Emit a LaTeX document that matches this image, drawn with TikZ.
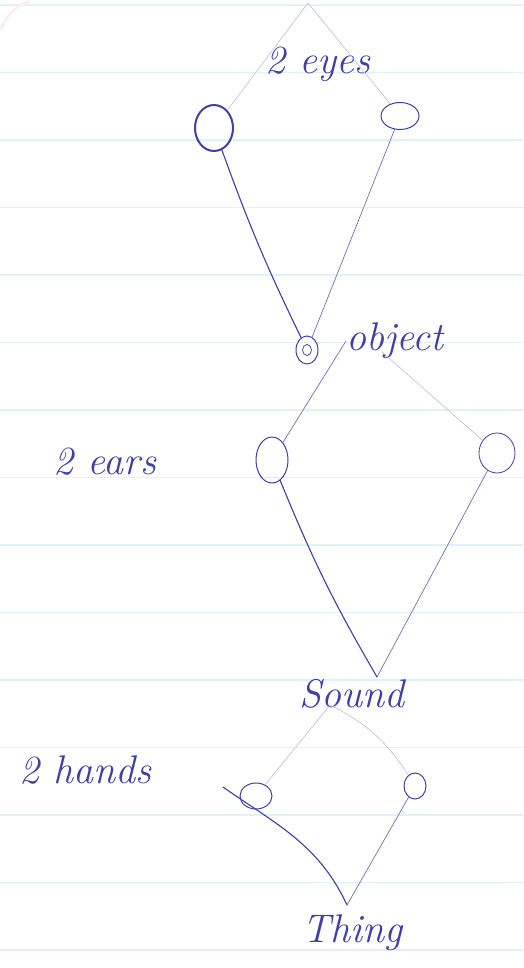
\documentclass[tikz,border=0pt]{standalone}
\usetikzlibrary{shapes.geometric}
\definecolor{pen}{RGB}{62,62,172}
\definecolor{rulecol}{RGB}{224,242,247}
\tikzset{
  ink/.style={draw=pen, line width=1.1pt, line cap=round},
  thinink/.style={draw=pen!75, line width=0.7pt, line cap=round},
  faint/.style={draw=pen!35, line width=0.6pt, line cap=round},
  organ/.style={ellipse, draw=pen, line width=1pt, inner sep=0pt},
  word/.style={text=pen, font=\fontsize{40}{44}\selectfont\itshape, inner sep=0pt},
}
\begin{document}
\begin{tikzpicture}[x=1pt,y=-1pt]
  \useasboundingbox (0,0) rectangle (523,968);
  % Paper
  \foreach \k in {0,...,14}
    \draw[rulecol, line width=1.2pt] (0,5+67.5*\k) -- (523,5+67.5*\k);
  \draw[red!8, line width=2.5pt] (1,30) to[bend left=25] (30,1);
  % Eyes
  \coordinate (top) at (308,3);
  \node[word] (eyes) at (318,64) {2 eyes};
  \node[organ, line width=2pt, minimum width=38pt, minimum height=46pt] (leye) at (214,128) {};
  \node[organ, minimum width=38pt, minimum height=27pt] (reye) at (400,116) {};
  \draw[faint] (top) -- (leye);
  \draw[faint] (top) -- (reye);
  % Object
  \node[organ, minimum width=22pt, minimum height=28pt] (obj) at (307,350) {};
  \node[organ, line width=0.7pt, minimum width=9pt, minimum height=11pt] (objdot) at (obj) {};
  \node[word, anchor=west] (objlbl) at (346,341) {object};
  \coordinate (objfoot) at (382,352);
  \draw[ink] (leye) to[bend right=3] (obj);
  \draw[thinink] (reye) -- (obj);
  % Ears
  \node[word] (ears) at (105,462) {2 ears};
  \node[organ, minimum width=32pt, minimum height=46pt] (lear) at (272,460) {};
  \node[organ, line width=0.8pt, minimum width=36pt, minimum height=40pt] (rear) at (497,453) {};
  \draw[thinink] (objlbl.west) -- (lear);
  \draw[faint] (objfoot) -- (rear);
  % Sound
  \coordinate (soundtip) at (377,677);
  \node[word] (sound) at (352,694) {Sound};
  \coordinate (soundfoot) at (330,705);
  \draw[ink] (lear) to[bend right=4] (soundtip);
  \draw[thinink] (rear) -- (soundtip);
  % Hands
  \node[word] (hands) at (85,770) {2 hands};
  \node[organ, minimum width=32pt, minimum height=26pt] (lhand) at (256,796) {};
  \node[organ, minimum width=22pt, minimum height=26pt] (rhand) at (415,786) {};
  \coordinate (lstroke) at (223,787);
  \draw[faint] (soundfoot) -- (lhand);
  \draw[faint] (soundfoot) to[bend left=15] (rhand);
  % Thing
  \coordinate (thingtip) at (347,905);
  \node[word] (thing) at (352,933) {Thing};
  \draw[ink] (lstroke) to[out=-35,in=115] (thingtip);
  \draw[thinink] (rhand) -- (thingtip);
\end{tikzpicture}
\end{document}
